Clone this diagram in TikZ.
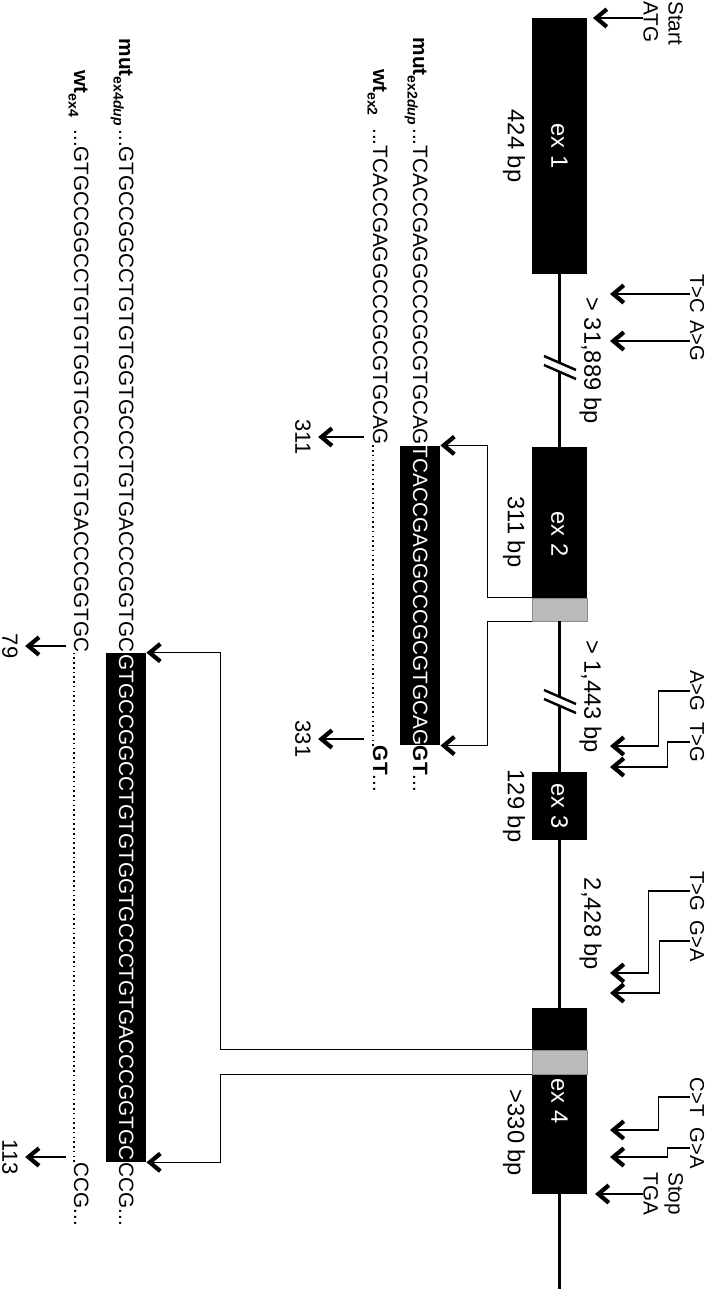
\documentclass[tikz,border=0pt]{standalone}
\usepackage{fontspec}
\setmainfont{Liberation Sans}
\usetikzlibrary{arrows.meta,calc}
\newcommand{\rowlab}[2]{\textbf{#1}\raisebox{-3pt}{\fontsize{8}{9}\selectfont\bfseries #2}}

\begin{document}
\begin{tikzpicture}[>={Straight Barb[length=6pt,width=10pt,line width=2.4pt 0 1]},
    exon/.style={rectangle, fill=black, text=white, minimum height=1.1cm, inner sep=0pt, font=\fontsize{13.5}{15}\selectfont},
    dupexon/.style={rectangle, fill=black!27, draw=black!45, line width=0.4pt, minimum height=1.1cm, inner sep=0pt},
    sizelab/.style={font=\fontsize{13.5}{15}\selectfont, inner sep=0pt},
    mutlab/.style={font=\fontsize{11.5}{13}\selectfont, inner sep=0pt},
    endlab/.style={font=\fontsize{11.8}{14.2}\selectfont, inner sep=0pt, align=left, anchor=south west},
    seqtext/.style={font=\fontsize{11.8}{14}\selectfont, inner sep=0pt},
    seqbox/.style={seqtext, fill=black, text=white, minimum height=0.8cm},
    poslab/.style={font=\fontsize{12.5}{15}\selectfont, inner sep=4pt},
    geneline/.style={line width=1.4pt},
    brkline/.style={line width=1.4pt},
    mutarrow/.style={->, line width=0.6pt},
    dotline/.style={line width=0.9pt, dash pattern=on 0.9pt off 1.8pt}]
\begin{scope}[x=0.02cm, y=0.02cm, rotate=-90, transform shape]
\useasboundingbox (0,0) rectangle (1289,708);

% gene with exons
\node[exon, minimum width=5.12cm] (ex1) at (146,559.5) {ex 1};
\node[exon, minimum width=3.48cm] (ex2) at (534,559.5) {ex 2};
\node[exon, minimum width=1.36cm] (ex3) at (806,559.5) {ex 3};
\node[exon, minimum width=3.72cm] (ex4) at (1101,559.5) {ex 4};
\node[dupexon, minimum width=0.46cm] (ex2dup) at (609.5,559.5) {};
\node[dupexon, minimum width=0.48cm] (ex4dup) at (1062,559.5) {};
\coordinate (geneend) at (1289,559.5);
\draw[geneline] (ex1) -- (ex2);
\draw[geneline] (ex2) -- (ex3);
\draw[geneline] (ex3) -- (ex4);
\draw[geneline] (ex4) -- (geneend);
\foreach \bx in {368,702} {
  \fill[white] (\bx-12,544) -- (\bx+2,576) -- (\bx+11,576) -- (\bx-3,544) -- cycle;
  \draw[brkline] (\bx-12,544) -- (\bx+2,576);
  \draw[brkline] (\bx-3,544) -- (\bx+11,576);
}

\node[sizelab] (len1) at (146,514) {424 bp};
\node[sizelab] (len2) at (532,514) {311 bp};
\node[sizelab] (len3) at (806,514) {129 bp};
\node[sizelab] (len4) at (1133,514) {>330 bp};
\node[sizelab] (int1) at ($(ex1.east)!0.5!(ex2.west)+(0,31)$) {> 31,889 bp};
\node[sizelab] (int2) at ($(ex2.east)!0.5!(ex3.west)+(0,31)$) {> 1,443 bp};
\node[sizelab] (int3) at ($(ex3.east)!0.5!(ex4.west)+(0,31)$) {2,428 bp};

% start and stop
\node[endlab] (startlab) at (1,643) {Start\\ATG};
\coordinate (atgpt) at (18,593);
\draw[mutarrow] (startlab.south -| atgpt) -- (atgpt);
\node[endlab] (stoplab) at (1172,643) {Stop\\TGA};
\coordinate (tgapt) at (1194,595);
\draw[mutarrow] (stoplab.south -| tgapt) -- (tgapt);

% variants
\node[mutlab] (tc) at (294,697) {T>C};
\node[mutlab] (ag1) at (341,697) {A>G};
\node[mutlab] (ag2) at (691,697) {A>G};
\node[mutlab] (tg2) at (742,697) {T>G};
\node[mutlab] (tg3) at (891,697) {T>G};
\node[mutlab] (ga3) at (941,697) {G>A};
\node[mutlab] (ct4) at (1097,697) {C>T};
\node[mutlab] (ga4) at (1148,697) {G>A};
\coordinate (tcpt) at (294,610);
\coordinate (ag1pt) at (341,610);
\coordinate (ag2pt) at (746,610);
\coordinate (tg2pt) at (767,610);
\coordinate (tg3pt) at (973,610);
\coordinate (ga3pt) at (993,610);
\coordinate (ct4pt) at (1130,610);
\coordinate (ga4pt) at (1157,610);
\draw[mutarrow] (tc) -- (tcpt);
\draw[mutarrow] (ag1) -- (ag1pt);
\draw[mutarrow] (ag2.south) -- ++(0,-31) -| (ag2pt);
\draw[mutarrow] (tg2.south) -- ++(0,-22) -| (tg2pt);
\draw[mutarrow] (tg3.south) -- ++(0,-41) -| (tg3pt);
\draw[mutarrow] (ga3.south) -- ++(0,-30) -| (ga3pt);
\draw[mutarrow] (ct4.south) -- ++(0,-31) -| (ct4pt);
\draw[mutarrow] (ga4.south) -- ++(0,-22) -| (ga4pt);

% exon 2 duplication
\node[seqbox, minimum width=5.98cm, anchor=base] (dupbox2) at (595.5,413) {TCACCGAGGCCCGCGTGCAG};
\node[seqtext, anchor=base east] (mut2pre) at (dupbox2.base west) {\rowlab{mut}{ex2\textit{dup}}\,...TCACCGAGGCCCGCGTGCAG};
\node[seqtext, anchor=base west] (mut2post) at (dupbox2.base east) {\textbf{GT}...};
\node[seqtext, anchor=base east] (wt2pre) at ($(dupbox2.base west)+(0,-40)$) {\rowlab{wt}{ex2}\hspace{0.25cm}...TCACCGAGGCCCGCGTGCAG};
\node[seqtext, anchor=base west] (wt2post) at ($(dupbox2.base east)+(0,-40)$) {\textbf{GT}...};
\draw[dotline] (wt2pre.base east) -- (wt2post.base west);
\draw[mutarrow] (ex2dup.south west) -- ++(0,-44) -| (dupbox2.north west);
\draw[mutarrow] (ex2dup.south east) -- ++(0,-44) -| (dupbox2.north east);
\node[poslab] (n311) at (437,303) {311};
\node[poslab] (n331) at (739,303) {331};
\coordinate (p311) at (437,364);
\coordinate (p331) at (739,364);
\draw[mutarrow] (p311) -- (n311);
\draw[mutarrow] (p331) -- (n331);

% exon 4 duplication
\node[seqbox, minimum width=10.18cm, anchor=base] (dupbox4) at (907.5,119) {GTGCCGGCCTGTGTGGTGCCCTGTGACCCGGTGC};
\node[seqtext, anchor=base east] (mut4pre) at (dupbox4.base west) {\rowlab{mut}{ex4\textit{dup}}\,...GTGCCGGCCTGTGTGGTGCCCTGTGACCCGGTGC};
\node[seqtext, anchor=base west] (mut4post) at (dupbox4.base east) {CCG...};
\node[seqtext, anchor=base east] (wt4pre) at ($(dupbox4.base west)+(0,-45)$) {\rowlab{wt}{ex4}\hspace{0.25cm}...GTGCCGGCCTGTGTGGTGCCCTGTGACCCGGTGC};
\node[seqtext, anchor=base west] (wt4post) at ($(dupbox4.base east)+(0,-45)$) {CCG...};
\draw[dotline] (wt4pre.base east) -- (wt4post.base west);
\draw[mutarrow] (ex4dup.south west) -- ++(0,-311) -| (dupbox4.north west);
\draw[mutarrow] (ex4dup.south east) -- ++(0,-311) -| (dupbox4.north east);
\node[poslab] (n79) at (646,10) {79};
\node[poslab] (n113) at (1157,10) {113};
\coordinate (p79) at (646,66);
\coordinate (p113) at (1157,66);
\draw[mutarrow] (p79) -- (n79);
\draw[mutarrow] (p113) -- (n113);
\end{scope}
\end{tikzpicture}
\end{document}
